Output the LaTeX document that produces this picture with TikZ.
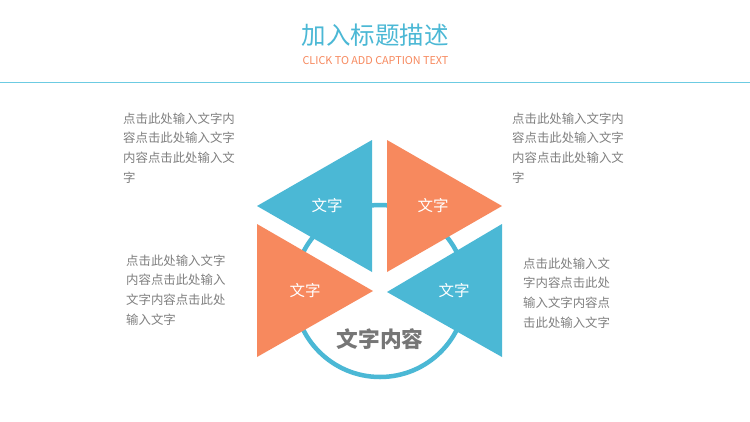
\documentclass[tikz,border=0pt]{standalone}
\usepackage{fontspec}
\setmainfont{Noto Sans CJK SC}
\definecolor{cblue}{RGB}{75,184,213}
\definecolor{corange}{RGB}{247,137,94}
\definecolor{cline}{RGB}{108,203,226}
\definecolor{ctext}{RGB}{128,128,128}
\definecolor{ccenter}{RGB}{118,118,118}
\begin{document}
\begin{tikzpicture}[x=1pt,y=-1pt,
  body/.style={inner sep=0pt,anchor=west,text=ctext,font=\fontsize{12.4}{14}\selectfont},
  tri/.style={draw=none},
  tlabel/.style={inner sep=0pt,text=white,font=\fontsize{15.5}{17}\selectfont}]
\useasboundingbox (0,0) rectangle (750,421);
\fill[white] (0,0) rectangle (750,421);
% header
\node[inner sep=0pt,text=cblue,font=\fontsize{24.5}{26}\selectfont] (title) at (375,35) {加入标题描述};
\node[inner sep=0pt,text=corange,font=\fontsize{10.8}{12}\selectfont] (sub) at (375.5,61) {CLICK TO ADD CAPTION TEXT};
\coordinate (la) at (0,82.3);
\coordinate (lb) at (750,82.3);
\draw[cline,line width=1.3pt] (la) -- (lb);
% ring
\node[circle,draw=cblue,line width=4.5pt,minimum size=172pt,inner sep=0pt] (ring) at (380,291) {};
% triangles
\fill[cblue] (372,140) -- (257,206) -- (372,272) -- cycle;
\fill[corange] (387,140) -- (502,206) -- (387,272) -- cycle;
\fill[corange] (257,224) -- (373,291) -- (257,357) -- cycle;
\fill[cblue] (502,224) -- (387,292) -- (502,357) -- cycle;
\node[tlabel] (l1) at (327,206) {文字};
\node[tlabel] (l2) at (433,206) {文字};
\node[tlabel] (l3) at (305,291) {文字};
\node[tlabel] (l4) at (454,291) {文字};
\node[inner sep=0pt,text=ccenter,font=\fontsize{21.7}{24}\selectfont\bfseries] (ctr) at (380,339) {文字内容};
% text blocks
\node[body] (a1) at (123,118.3) {点击此处输入文字内};
\node[body] (a2) at (123,138) {容点击此处输入文字};
\node[body] (a3) at (123,157.7) {内容点击此处输入文};
\node[body] (a4) at (123,177.4) {字};
\node[body] (b1) at (512,118.3) {点击此处输入文字内};
\node[body] (b2) at (512,138) {容点击此处输入文字};
\node[body] (b3) at (512,157.7) {内容点击此处输入文};
\node[body] (b4) at (512,177.4) {字};
\node[body] (c1) at (126,260.5) {点击此处输入文字};
\node[body] (c2) at (126,280.2) {内容点击此处输入};
\node[body] (c3) at (126,299.9) {文字内容点击此处};
\node[body] (c4) at (126,319.6) {输入文字};
\node[body] (d1) at (523,263.3) {点击此处输入文};
\node[body] (d2) at (523,283) {字内容点击此处};
\node[body] (d3) at (523,302.7) {输入文字内容点};
\node[body] (d4) at (523,322.4) {击此处输入文字};
\end{tikzpicture}
\end{document}
